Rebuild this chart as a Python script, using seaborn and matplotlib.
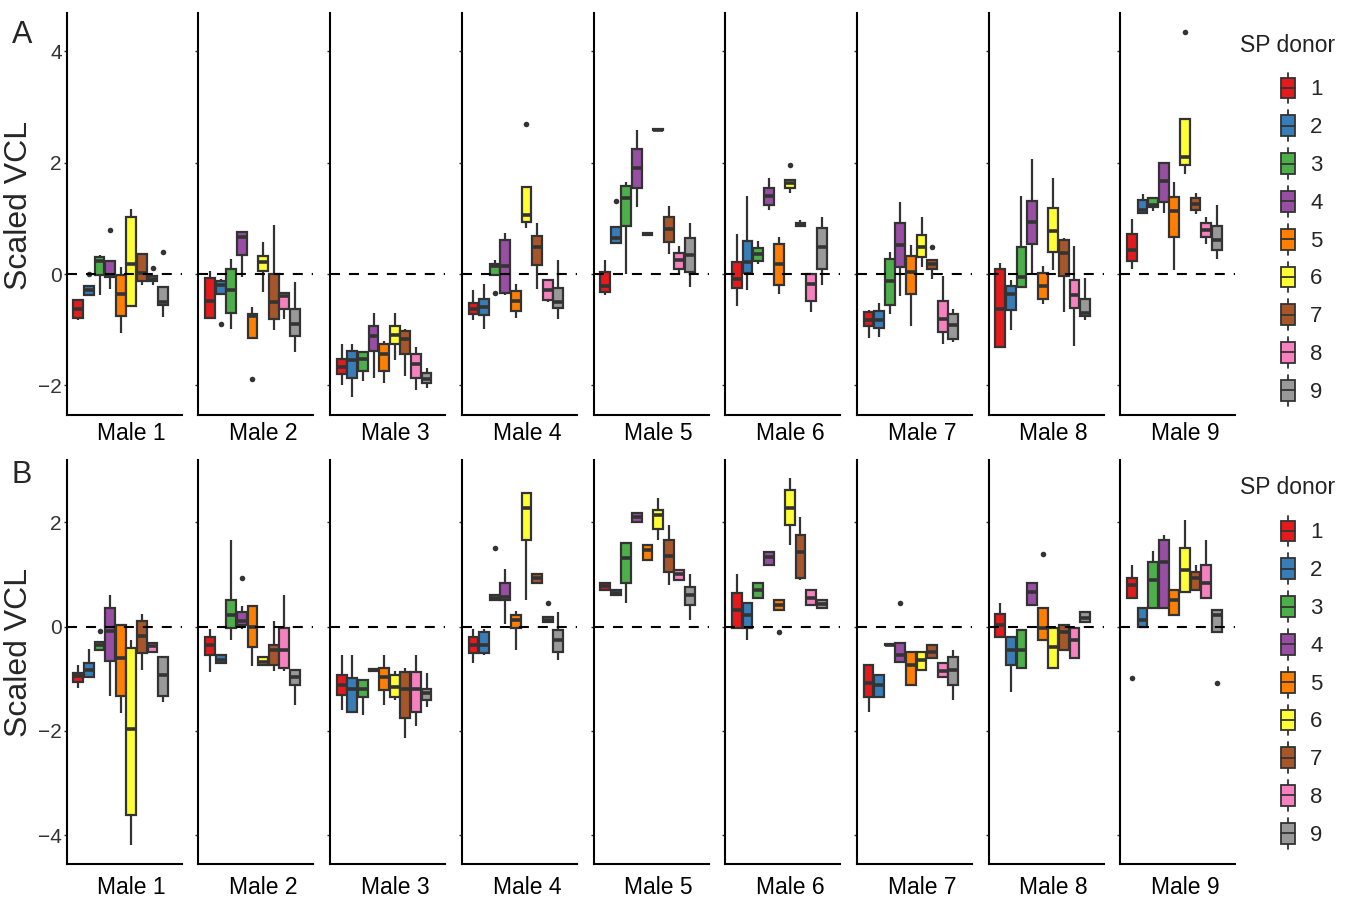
import pandas as pd
import seaborn as sns
import matplotlib.pyplot as plt
from matplotlib.legend_handler import HandlerBase
from matplotlib.patches import Rectangle, Patch
from matplotlib.lines import Line2D

# Categorías
DONORS = ["1", "2", "3", "4", "5", "6", "7", "8", "9"]
MALES = ["Male %d" % i for i in range(1, 10)]
PAL = ["#E41A1C", "#377EB8", "#4DAF4A", "#984EA3", "#FF7F00",
       "#FFFF33", "#A65628", "#F781BF", "#999999"]

# Panel A: bigote inferior, Q1, mediana, Q3, bigote superior (fila = macho, columna = donante)
A_LO = [[-0.83, -0.38, -0.38, -0.27, -1.05, -0.57, -0.19, -0.19, -0.77],
        [-0.80, -0.36, -0.98, -0.05, -1.14, -0.32, -1.00, -0.81, -1.40],
        [-2.00, -2.20, -1.92, -1.86, -1.96, -1.54, -1.83, -2.08, -2.05],
        [-0.83, -0.99, -0.02, -0.38, -0.78, 0.82, -0.27, -0.50, -0.80],
        [-0.38, 0.55, 0.01, 1.20, 0.70, 2.58, 0.37, -0.02, -0.23],
        [-0.57, -0.28, 0.19, 1.15, -0.35, 1.45, 0.87, -0.68, -0.20],
        [-1.14, -1.13, -0.72, -0.39, -0.93, 0.13, -0.08, -1.25, -1.22],
        [-1.33, -1.01, -0.23, 0.01, -0.53, 0.08, -0.68, -1.29, -0.83],
        [0.10, 1.10, 1.14, 1.10, 0.07, 1.80, 1.08, 0.55, 0.28]]
A_Q1 = [[-0.79, -0.38, -0.01, -0.05, -0.76, -0.57, -0.13, -0.13, -0.56],
        [-0.78, -0.36, -0.69, 0.34, -1.14, 0.05, -0.81, -0.62, -1.11],
        [-1.80, -1.86, -1.74, -1.38, -1.74, -1.26, -1.44, -1.87, -1.96],
        [-0.72, -0.74, -0.02, -0.33, -0.66, 0.94, 0.17, -0.46, -0.60],
        [-0.32, 0.56, 0.86, 1.54, 0.70, 2.58, 0.57, 0.10, 0.04],
        [-0.25, 0.02, 0.23, 1.25, -0.20, 1.54, 0.87, -0.48, 0.10],
        [-0.93, -0.96, -0.56, 0.13, -0.36, 0.31, 0.10, -1.04, -1.16],
        [-1.31, -0.65, -0.23, 0.55, -0.45, 0.39, -0.04, -0.60, -0.75],
        [0.23, 1.10, 1.20, 1.29, 0.66, 1.96, 1.16, 0.66, 0.44]]
A_MED = [[-0.62, -0.28, 0.24, -0.03, -0.36, 0.19, 0.02, -0.08, -0.50],
         [-0.48, -0.19, -0.29, 0.66, -0.75, 0.22, -0.50, -0.39, -0.89],
         [-1.67, -1.55, -1.53, -1.11, -1.44, -1.10, -1.16, -1.62, -1.89],
         [-0.62, -0.59, 0.14, 0.15, -0.48, 1.06, 0.49, -0.29, -0.50],
         [-0.21, 0.64, 1.36, 1.90, 0.715, 2.59, 0.81, 0.25, 0.35],
         [-0.08, 0.22, 0.37, 1.40, 0.18, 1.64, 0.89, -0.18, 0.49],
         [-0.83, -0.83, -0.13, 0.53, 0.04, 0.48, 0.18, -0.81, -0.92],
         [-0.63, -0.36, -0.05, 0.94, -0.21, 0.78, 0.38, -0.38, -0.70],
         [0.43, 1.15, 1.25, 1.68, 1.14, 2.11, 1.26, 0.80, 0.62]]
A_Q3 = [[-0.47, -0.21, 0.31, 0.24, -0.02, 1.02, 0.37, -0.04, -0.23],
        [-0.07, -0.12, 0.09, 0.76, -0.71, 0.33, 0.01, -0.34, -0.62],
        [-1.53, -1.38, -1.40, -0.94, -1.26, -0.94, -1.02, -1.44, -1.78],
        [-0.51, -0.44, 0.19, 0.62, -0.30, 1.56, 0.68, -0.11, -0.25],
        [0.03, 0.85, 1.59, 2.25, 0.73, 2.60, 1.03, 0.38, 0.65],
        [0.21, 0.59, 0.47, 1.55, 0.55, 1.69, 0.92, 0.01, 0.82],
        [-0.68, -0.66, 0.28, 0.91, 0.32, 0.70, 0.26, -0.48, -0.72],
        [0.09, -0.21, 0.49, 1.32, 0.02, 1.19, 0.61, -0.11, -0.44],
        [0.72, 1.33, 1.37, 2.00, 1.39, 2.78, 1.36, 0.92, 0.86]]
A_HI = [[-0.45, -0.20, 0.34, 0.24, 0.13, 1.17, 0.37, -0.02, -0.23],
        [0.06, -0.08, 0.27, 0.78, -0.59, 0.58, 0.89, -0.34, -0.14],
        [-1.25, -1.25, -1.40, -0.70, -1.20, -0.70, -0.99, -1.31, -1.68],
        [-0.29, -0.17, 0.25, 0.74, -0.17, 1.56, 0.91, -0.11, 0.25],
        [0.26, 0.85, 1.66, 2.59, 0.73, 2.60, 1.23, 0.50, 0.91],
        [0.72, 1.40, 0.59, 1.72, 0.67, 1.69, 0.97, 0.02, 1.03],
        [-0.65, -0.51, 0.40, 1.30, 0.53, 1.03, 0.26, -0.03, -0.62],
        [0.20, -0.10, 1.40, 2.07, 0.14, 1.72, 0.64, 0.50, -0.07],
        [0.99, 1.44, 1.37, 2.00, 1.65, 2.78, 1.45, 1.03, 1.25]]
# atípicos: (macho, donante, valor)
A_OUT = [(1, "2", 0.0), (1, "4", 0.79), (1, "8", 0.11), (1, "9", 0.39),
         (2, "2", -0.90), (2, "5", -1.89),
         (4, "3", -0.33), (4, "6", 2.69),
         (5, "2", 1.32),
         (6, "6", 1.96),
         (7, "7", 0.49),
         (9, "6", 4.34)]

# Panel B
B_LO = [[-1.18, -0.96, -0.45, -1.34, -1.65, -4.18, -0.83, -0.48, -1.44],
        [-0.87, -0.70, -0.25, -0.05, -0.75, -0.73, -0.85, -0.85, -1.50],
        [-1.60, -1.65, -1.70, -0.85, -1.50, -1.40, -2.13, -1.90, -1.55],
        [-0.70, -0.55, 0.50, 0.05, -0.45, 0.51, 0.84, 0.09, -0.64],
        [0.70, 0.60, 0.45, 2.00, 1.28, 1.66, 0.80, 0.90, 0.13],
        [-0.03, -0.25, 0.55, 1.18, 0.32, 1.57, 0.90, 0.42, 0.36],
        [-1.63, -1.35, -0.35, -0.68, -1.12, -0.83, -0.60, -0.96, -1.40],
        [-0.20, -1.25, -0.79, 0.42, -0.25, -0.79, -0.45, -0.60, 0.09],
        [0.55, 0.00, 0.36, 0.36, 0.22, 0.66, 0.70, 0.55, -0.10]]
B_Q1 = [[-1.07, -0.96, -0.45, -0.67, -1.33, -3.62, -0.51, -0.48, -1.34],
        [-0.54, -0.70, -0.02, 0.03, -0.40, -0.73, -0.73, -0.80, -1.12],
        [-1.31, -1.63, -1.35, -0.85, -1.22, -1.35, -1.75, -1.63, -1.40],
        [-0.50, -0.50, 0.50, 0.51, -0.02, 1.66, 0.84, 0.09, -0.49],
        [0.70, 0.60, 0.84, 2.00, 1.28, 1.86, 1.05, 0.90, 0.42],
        [-0.03, -0.03, 0.55, 1.18, 0.32, 1.95, 0.93, 0.42, 0.36],
        [-1.35, -1.35, -0.35, -0.68, -1.12, -0.83, -0.60, -0.96, -1.12],
        [-0.20, -0.73, -0.79, 0.42, -0.25, -0.79, -0.45, -0.60, 0.09],
        [0.55, 0.00, 0.36, 0.36, 0.22, 0.66, 0.70, 0.55, -0.10]]
B_MED = [[-0.94, -0.83, -0.35, -0.08, -0.61, -1.97, -0.19, -0.38, -0.93],
         [-0.35, -0.65, 0.22, 0.10, 0.00, -0.68, -0.45, -0.45, -0.96],
         [-1.12, -1.20, -1.20, -0.83, -0.96, -1.15, -1.20, -1.20, -1.27],
         [-0.35, -0.35, 0.55, 0.57, 0.13, 2.27, 0.93, 0.13, -0.25],
         [0.78, 0.65, 1.32, 2.10, 1.47, 2.14, 1.35, 1.00, 0.60],
         [0.32, 0.22, 0.70, 1.33, 0.42, 2.27, 1.43, 0.55, 0.43],
         [-1.08, -1.12, -0.35, -0.54, -0.73, -0.64, -0.49, -0.85, -0.83],
         [0.03, -0.45, -0.45, 0.67, -0.03, -0.40, -0.10, -0.25, 0.17],
         [0.80, 0.13, 0.90, 1.24, 0.51, 1.09, 0.93, 0.84, 0.22]]
B_Q3 = [[-0.89, -0.69, -0.30, 0.35, 0.02, -0.41, 0.10, -0.31, -0.59],
        [-0.20, -0.55, 0.51, 0.28, 0.40, -0.58, -0.35, -0.02, -0.83],
        [-0.93, -0.98, -1.03, -0.81, -0.80, -0.93, -0.87, -0.87, -1.20],
        [-0.20, -0.10, 0.60, 0.84, 0.22, 2.55, 1.00, 0.18, -0.06],
        [0.84, 0.70, 1.60, 2.18, 1.57, 2.24, 1.66, 1.09, 0.76],
        [0.64, 0.45, 0.84, 1.43, 0.51, 2.62, 1.76, 0.70, 0.51],
        [-0.73, -0.93, -0.33, -0.31, -0.49, -0.49, -0.35, -0.70, -0.58],
        [0.24, -0.20, -0.06, 0.84, 0.36, -0.02, 0.03, -0.02, 0.28],
        [0.93, 0.36, 1.24, 1.66, 0.70, 1.51, 1.05, 1.18, 0.32]]
B_HI = [[-0.73, -0.43, -0.30, 0.61, 0.03, -0.25, 0.24, -0.31, -0.59],
        [-0.05, -0.55, 1.65, 0.40, 0.40, -0.58, 0.10, 0.60, -0.83],
        [-0.55, -0.55, -1.03, -0.81, -0.55, -0.85, -0.80, -0.55, -0.90],
        [-0.05, -0.05, 0.60, 1.10, 0.30, 2.55, 1.00, 0.18, 0.28],
        [0.84, 0.70, 1.60, 2.18, 1.57, 2.47, 1.95, 1.09, 1.00],
        [1.00, 0.45, 0.84, 1.43, 0.51, 2.85, 2.10, 0.70, 0.51],
        [-0.73, -0.93, -0.33, -0.31, -0.49, -0.49, -0.35, -0.70, -0.45],
        [0.45, -0.20, -0.06, 0.84, 0.36, -0.02, 0.03, -0.02, 0.28],
        [1.18, 0.36, 1.45, 1.76, 0.70, 2.04, 1.18, 1.66, 0.32]]
B_OUT = [(1, "3", -0.08),
         (2, "4", 0.93),
         (4, "3", 1.50), (4, "8", 0.45),
         (6, "5", -0.10),
         (7, "4", 0.45),
         (8, "5", 1.38),
         (9, "1", -0.98), (9, "9", -1.08)]

# Tabla larga: cinco valores por caja reproducen exactamente sus cuartiles
filas = []
for panel, stats in [("A", (A_LO, A_Q1, A_MED, A_Q3, A_HI)),
                     ("B", (B_LO, B_Q1, B_MED, B_Q3, B_HI))]:
    for m in range(9):
        for d in range(9):
            for s in stats:
                filas.append((panel, MALES[m], DONORS[d], s[m][d]))
df = pd.DataFrame(filas, columns=["panel", "male", "donor", "vcl"])
atip = pd.DataFrame([("A", MALES[m - 1], d, v) for m, d, v in A_OUT] +
                    [("B", MALES[m - 1], d, v) for m, d, v in B_OUT],
                    columns=["panel", "male", "donor", "vcl"])

sns.set_theme(style="white")
plt.rcParams["font.family"] = ["Liberation Sans", "DejaVu Sans"]

W, H = 1351, 898
fig = plt.figure(figsize=(W / 100, H / 100), dpi=100)

ROWS = {"A": dict(top=13, bot=415, ylim=(-2.53, 4.69), ticks=[-2, 0, 2, 4], lab=18,
                  leg_top=75.2, title_y=45, ylab_y=205, letter_y=43),
        "B": dict(top=460, bot=864, ylim=(-4.55, 3.19), ticks=[-4, -2, 0, 2], lab=24,
                  leg_top=518.2, title_y=488, ylab_y=652, letter_y=483)}
pal = dict(zip(DONORS, PAL))


class BoxHandler(HandlerBase):
    # dibuja una cajita con mediana y bigotes como clave de leyenda
    def create_artists(self, legend, orig_handle, xdescent, ydescent,
                       width, height, fontsize, trans):
        cx = -xdescent + width / 2
        cy = -ydescent + height / 2
        bw, bh, wl = 10, 15, 3.6
        fc = orig_handle.get_facecolor()
        w1 = Line2D([cx, cx], [cy + bh / 2, cy + bh / 2 + wl], color="#333333", lw=1.3, transform=trans)
        w2 = Line2D([cx, cx], [cy - bh / 2 - wl, cy - bh / 2], color="#333333", lw=1.3, transform=trans)
        box = Rectangle((cx - bw / 2, cy - bh / 2), bw, bh, facecolor=fc,
                        edgecolor="#333333", lw=1.3, transform=trans)
        med = Line2D([cx - bw / 2, cx + bw / 2], [cy, cy], color="#333333", lw=1.3, transform=trans)
        return [w1, w2, box, med]


for panel, cfg in ROWS.items():
    hgt = cfg["bot"] - cfg["top"]
    for m in range(9):
        left = 66.7 + m * 131.7
        ax = fig.add_axes([left / W, 1 - cfg["bot"] / H, 115 / W, hgt / H])
        sub = df[(df["panel"] == panel) & (df["male"] == MALES[m])]
        sns.boxplot(data=sub, x="donor", y="vcl", hue="donor", order=DONORS,
                    hue_order=DONORS, palette=pal, saturation=1, whis=(0, 100),
                    width=0.92, linewidth=1.6, linecolor="#333333", showcaps=False,
                    fliersize=0, legend=False, ax=ax,
                    medianprops=dict(linewidth=2.6))
        fl = atip[(atip["panel"] == panel) & (atip["male"] == MALES[m])]
        if len(fl):
            sns.stripplot(data=fl, x="donor", y="vcl", order=DONORS, jitter=False,
                          color="#333333", size=4, ax=ax, zorder=4)
        ax.axhline(0, color="black", lw=1.5, ls=(0, (4.8, 4.3)), zorder=5)
        ax.set_xlim(-1.1, 9.75)
        ax.set_ylim(cfg["ylim"])
        ax.set_yticks(cfg["ticks"])
        ax.set_xticks([])
        ax.set_xlabel("")
        ax.set_ylabel("")
        for s in ["top", "right"]:
            ax.spines[s].set_visible(False)
        for s in ["left", "bottom"]:
            ax.spines[s].set_color("black")
            ax.spines[s].set_linewidth(1.5)
        ax.tick_params(axis="y", left=True, length=2.5, width=1, color="#333333",
                       labelsize=15, pad=1, labelcolor="#333333",
                       labelleft=(m == 0))
        ax.text(0.565, -cfg["lab"] / hgt, MALES[m], transform=ax.transAxes,
                ha="center", va="center", fontsize=16.5, color="black")

    # leyenda
    handles = [Patch(facecolor=c, edgecolor="#333333") for c in PAL]
    fig.legend(handles, DONORS, handler_map={Patch: BoxHandler()},
               loc="upper left", bbox_to_anchor=(1276.5 / W, 1 - cfg["leg_top"] / H),
               frameon=False, fontsize=16, handlelength=1.0, handleheight=1.4,
               handletextpad=0.51, labelspacing=0.545, borderpad=0, borderaxespad=0)
    fig.text(1240 / W, 1 - cfg["title_y"] / H, "SP donor", fontsize=16.5,
             ha="left", va="center", color="#222222")
    fig.text(19.5 / W, 1 - cfg["ylab_y"] / H, "Scaled VCL", rotation=90, fontsize=23,
             ha="center", va="center")
    fig.text(12 / W, 1 - cfg["letter_y"] / H, panel, fontsize=22, ha="left",
             va="baseline")

fig.savefig("out.png", dpi=100)
